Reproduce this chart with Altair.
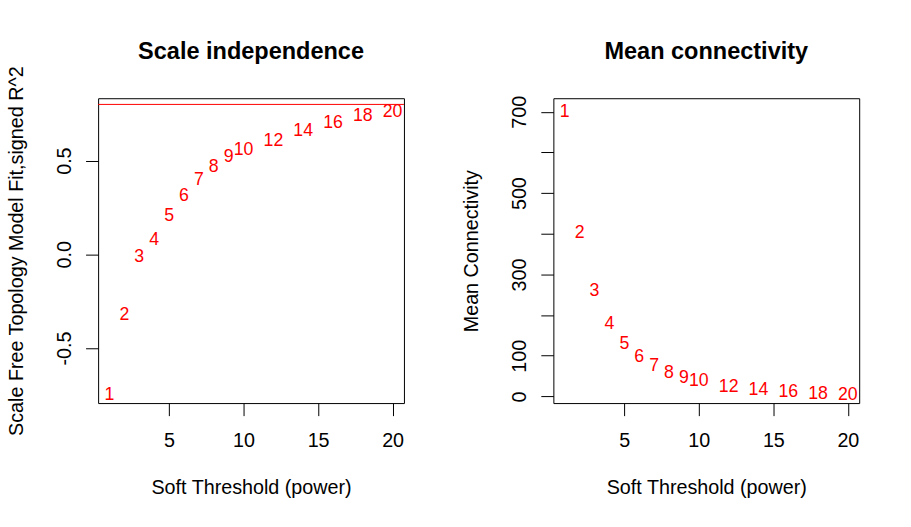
import altair as alt
import pandas as pd

# ---- data ----
powers = [1, 2, 3, 4, 5, 6, 7, 8, 9, 10, 12, 14, 16, 18, 20]
signed_r2 = [-0.734, -0.308, 0.002, 0.091, 0.220, 0.327, 0.415, 0.484,
             0.534, 0.570, 0.623, 0.672, 0.715, 0.752, 0.773]
mean_k = [706, 408, 266, 185, 136, 104.6, 82.5, 65.3, 53, 45.7,
          31, 22.9, 17.3, 13, 11.4]
r2_cutoff = 0.80
x_ticks = [5, 10, 15, 20]
left_y_ticks = [-0.5, 0.0, 0.5]
right_y_ticks = [0, 100, 200, 300, 400, 500, 600, 700]
titles = ["Scale independence", "Mean connectivity"]
x_title = "Soft Threshold (power)"
left_y_title = "Scale Free Topology Model Fit,signed R^2"
right_y_title = "Mean Connectivity"

df = pd.DataFrame({"power": powers, "r2": signed_r2, "k": mean_k,
                   "lab": [str(p) for p in powers]})

FONT = "Liberation Sans"
W, H = 307, 306
FS = 19.8
TICK = 12.6

x_scale = alt.Scale(domain=[0.24, 20.76], nice=False, zero=False)


def x_axis():
    return alt.Axis(values=x_ticks, title=x_title, domain=False, grid=False,
                    tickSize=TICK, tickColor="black", tickWidth=1,
                    labelFont=FONT, labelFontSize=FS, labelColor="black",
                    labelBaseline="alphabetic", labelAlign="center",
                    labelPadding=31.1, labelAngle=0,
                    titleFont=FONT, titleFontSize=FS, titleFontWeight="normal",
                    titleColor="black", titleX=W / 2, titleY=91,
                    titleBaseline="alphabetic", titleAlign="center")


def y_axis(values, title, label_expr):
    return alt.Axis(values=values, title=title, domain=False, grid=False,
                    tickSize=TICK, tickColor="black", tickWidth=1,
                    labelFont=FONT, labelFontSize=FS, labelColor="black",
                    labelAngle=270, labelAlign="center",
                    labelBaseline="alphabetic", labelPadding=14.9,
                    labelOverlap=False, labelExpr=label_expr,
                    titleFont=FONT, titleFontSize=FS, titleFontWeight="normal",
                    titleColor="black", titleAngle=270, titleX=-75.7,
                    titleY=H / 2, titleBaseline="alphabetic",
                    titleAlign="center")


def panel_title(text):
    return alt.Chart(pd.DataFrame({"t": [text]})).mark_text(
        font=FONT, fontSize=23.6, fontWeight="bold", color="black",
        align="center", baseline="alphabetic"
    ).encode(text="t:N", x=alt.value(W / 2), y=alt.value(-39.3))


left_expr = ("datum.value < 0 ? '-' + format(-datum.value, '.1f') "
             ": format(datum.value, '.1f')")
right_expr = ("(datum.value == 0 || datum.value % 200 == 100) "
              "? format(datum.value, 'd') : ''")

left_base = alt.Chart(df).encode(
    x=alt.X("power:Q", scale=x_scale, axis=x_axis()),
    y=alt.Y("r2:Q", scale=alt.Scale(domain=[-0.794, 0.833], nice=False,
                                    zero=False),
            axis=y_axis(left_y_ticks, left_y_title, left_expr)),
)
left_text = left_base.mark_text(font=FONT, fontSize=17.8, color="#FF0000",
                                align="center", baseline="middle", dy=3
                                ).encode(text="lab:N")
cut = alt.Chart(pd.DataFrame({"c": [r2_cutoff]})).mark_rule(
    color="#FF0000", strokeWidth=1).encode(y="c:Q")
left = alt.layer(left_text, cut, panel_title(titles[0])).properties(
    width=W, height=H)

right_base = alt.Chart(df).encode(
    x=alt.X("power:Q", scale=x_scale, axis=x_axis()),
    y=alt.Y("k:Q", scale=alt.Scale(domain=[-16.4, 733.4], nice=False,
                                   zero=False),
            axis=y_axis(right_y_ticks, right_y_title, right_expr)),
)
right_text = right_base.mark_text(font=FONT, fontSize=17.8, color="#FF0000",
                                  align="center", baseline="middle", dy=3
                                  ).encode(text="lab:N")
right = alt.layer(right_text, panel_title(titles[1])).properties(
    width=W, height=H)

chart = alt.hconcat(left, right, spacing=150, bounds="flush").resolve_scale(
    x="independent", y="independent"
).properties(
    padding={"left": 5.5, "top": 38.6, "right": 51, "bottom": 29.5},
    background="white",
).configure_view(stroke="black", strokeWidth=1)

chart.save("out.html", embed_options={"renderer": "svg", "actions": False})
